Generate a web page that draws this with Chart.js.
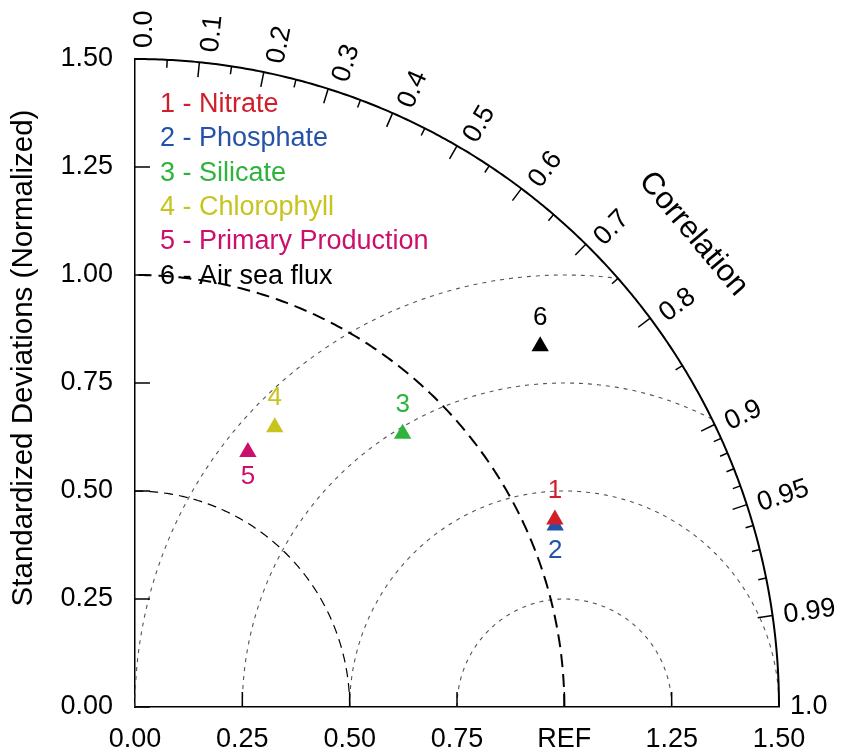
<!DOCTYPE html>
<html>
<head>
<meta charset="utf-8">
<script src="https://cdn.jsdelivr.net/npm/chart.js@4.4.1/dist/chart.umd.min.js"></script>
<style>
  html, body { margin: 0; padding: 0; background: #fff; }
</style>
</head>
<body>
<canvas id="taylor" width="843" height="753"></canvas>
<script>
const seriesNames = ['Nitrate', 'Phosphate', 'Silicate', 'Chlorophyll', 'Primary Production', 'Air sea flux'];
const seriesColors = ['#d01f2b', '#2352a8', '#2eb33c', '#c8c41e', '#cc0f6c', '#000000'];
const stdDevs = [1.070, 1.065, 0.888, 0.725, 0.646, 1.260];
const correlations = [0.914, 0.919, 0.702, 0.449, 0.407, 0.749];

const refStd = 1.0;
const maxStd = 1.5;
const stdTicks = [0, 0.25, 0.5, 0.75, 1.0, 1.25, 1.5];
const xTickLabels = ['0.00', '0.25', '0.50', '0.75', 'REF', '1.25', '1.50'];
const yTickLabels = ['0.00', '0.25', '0.50', '0.75', '1.00', '1.25', '1.50'];
const corrMajor = [0.0, 0.1, 0.2, 0.3, 0.4, 0.5, 0.6, 0.7, 0.8, 0.9, 0.95, 0.99, 1.0];
const corrMajorLabels = ['0.0', '0.1', '0.2', '0.3', '0.4', '0.5', '0.6', '0.7', '0.8', '0.9', '0.95', '0.99', '1.0'];
const corrMinor = [0.05, 0.15, 0.25, 0.35, 0.45, 0.55, 0.65, 0.75, 0.85, 0.91, 0.92, 0.93, 0.94, 0.96, 0.97, 0.98];
const rmsLevels = [0.25, 0.5, 0.75, 1.0];
const stdArcs = [0.5, 1.0];

const FONT = '"Liberation Sans", Arial, Helvetica, sans-serif';

// label under the marker for these series (phosphate, primary production)
const labelBelow = [false, true, false, false, true, false];

const datasets = seriesNames.map((name, i) => {
    const c = correlations[i];
    const s = stdDevs[i];
    return {
        label: (i + 1) + ' - ' + name,
        data: [{ x: s * c, y: s * Math.sqrt(1 - c * c) }],
        pointStyle: 'triangle',
        pointRadius: 10,
        pointHoverRadius: 10,
        backgroundColor: seriesColors[i],
        borderColor: seriesColors[i],
        borderWidth: 0
    };
});

function polyline(ctx, pts) {
    ctx.beginPath();
    pts.forEach((p, i) => i ? ctx.lineTo(p[0], p[1]) : ctx.moveTo(p[0], p[1]));
}

const taylorPlugin = {
    id: 'taylor',
    beforeDatasetsDraw(chart) {
        const { ctx, scales: { x, y } } = chart;
        const P = (u, v) => [x.getPixelForValue(u), y.getPixelForValue(v)];
        ctx.save();

        // centred RMS difference arcs around REF
        ctx.strokeStyle = '#555';
        ctx.lineWidth = 1.1;
        ctx.setLineDash([4, 5]);
        rmsLevels.forEach(r => {
            const lim = (maxStd * maxStd - refStd * refStd - r * r) / (2 * r * refStd);
            const phiMin = lim >= 1 ? 0 : Math.acos(lim);
            const pts = [];
            for (let i = 0; i <= 240; i++) {
                const phi = Math.PI - (Math.PI - phiMin) * i / 240;
                pts.push(P(refStd + r * Math.cos(phi), r * Math.sin(phi)));
            }
            polyline(ctx, pts);
            ctx.stroke();
        });

        // standard deviation arcs
        stdArcs.forEach(r => {
            const isRef = r === refStd;
            ctx.strokeStyle = '#000';
            ctx.lineWidth = isRef ? 2 : 1.2;
            ctx.setLineDash(isRef ? [13, 7] : [9, 6]);
            const pts = [];
            for (let i = 0; i <= 240; i++) {
                const t = (Math.PI / 2) * i / 240;
                pts.push(P(r * Math.cos(t), r * Math.sin(t)));
            }
            polyline(ctx, pts);
            ctx.stroke();
        });
        ctx.restore();
    },
    afterDraw(chart) {
        const { ctx, scales: { x, y } } = chart;
        const P = (u, v) => [x.getPixelForValue(u), y.getPixelForValue(v)];
        const o = P(0, 0);
        ctx.save();
        ctx.setLineDash([]);
        ctx.strokeStyle = '#000';

        // outer arc
        ctx.lineWidth = 2;
        const pts = [];
        for (let i = 0; i <= 300; i++) {
            const t = (Math.PI / 2) * i / 300;
            pts.push(P(maxStd * Math.cos(t), maxStd * Math.sin(t)));
        }
        polyline(ctx, pts);
        ctx.stroke();

        // inward ticks on the std axes
        ctx.lineWidth = 1.5;
        stdTicks.forEach(v => {
            if (v > 0 && v < maxStd) {
                ctx.beginPath();
                ctx.moveTo(x.getPixelForValue(v), o[1]);
                ctx.lineTo(x.getPixelForValue(v), o[1] - 15);
                ctx.stroke();
            }
            if (v < maxStd) {
                ctx.beginPath();
                ctx.moveTo(o[0], y.getPixelForValue(v));
                ctx.lineTo(o[0] + 15, y.getPixelForValue(v));
                ctx.stroke();
            }
        });

        // correlation ticks
        const corrTick = (c, len) => {
            const t = Math.acos(c);
            const p = P(maxStd * Math.cos(t), maxStd * Math.sin(t));
            const dx = o[0] - p[0], dy = o[1] - p[1];
            const d = Math.hypot(dx, dy);
            ctx.beginPath();
            ctx.moveTo(p[0], p[1]);
            ctx.lineTo(p[0] + dx / d * len, p[1] + dy / d * len);
            ctx.stroke();
        };
        corrMajor.forEach(c => { if (c > 0 && c < 1) corrTick(c, 15); });
        corrMinor.forEach(c => corrTick(c, 8));

        // correlation labels
        ctx.fillStyle = '#000';
        ctx.font = '27px ' + FONT;
        ctx.textAlign = 'left';
        ctx.textBaseline = 'middle';
        corrMajor.forEach((c, i) => {
            const t = Math.acos(c);
            const p = P(maxStd * Math.cos(t), maxStd * Math.sin(t));
            const dx = p[0] - o[0], dy = p[1] - o[1];
            const d = Math.hypot(dx, dy);
            ctx.save();
            ctx.translate(p[0] + dx / d * 11, p[1] + dy / d * 11);
            ctx.rotate(-t);
            ctx.fillText(corrMajorLabels[i], 0, 10 * Math.sin(t));
            ctx.restore();
        });

        // "Correlation" title
        const tc = Math.acos(0.765);
        const pc = P(1.70 * Math.cos(tc), 1.70 * Math.sin(tc));
        ctx.save();
        ctx.translate(pc[0], pc[1]);
        ctx.rotate(Math.PI / 2 - tc);
        ctx.font = '31px ' + FONT;
        ctx.textAlign = 'center';
        ctx.fillText('Correlation', 0, 0);
        ctx.restore();

        // y axis title
        ctx.save();
        ctx.translate(24, 358);
        ctx.rotate(-Math.PI / 2);
        ctx.font = '29.5px ' + FONT;
        ctx.textAlign = 'center';
        ctx.fillText('Standardized Deviations (Normalized)', 0, 0);
        ctx.restore();

        // legend text
        ctx.font = '27px ' + FONT;
        ctx.textAlign = 'left';
        ctx.textBaseline = 'alphabetic';
        chart.data.datasets.forEach((ds, i) => {
            ctx.fillStyle = ds.backgroundColor;
            ctx.fillText(ds.label, 160, 112 + i * 34.3);
        });

        // marker numbers
        ctx.font = '26px ' + FONT;
        ctx.textAlign = 'center';
        ctx.textBaseline = 'middle';
        chart.data.datasets.forEach((ds, i) => {
            const pt = chart.getDatasetMeta(i).data[0];
            ctx.fillStyle = ds.backgroundColor;
            ctx.fillText(String(i + 1), pt.x, labelBelow[i] ? pt.y + 25 : pt.y - 29);
        });
        ctx.restore();
    }
};

new Chart(document.getElementById('taylor'), {
    type: 'scatter',
    data: { datasets },
    plugins: [taylorPlugin],
    options: {
        responsive: false,
        devicePixelRatio: 1,
        animation: false,
        layout: { padding: { top: 59, right: 64, left: 0, bottom: 0 } },
        plugins: { legend: { display: false }, tooltip: { enabled: false } },
        scales: {
            x: {
                type: 'linear',
                min: 0,
                max: maxStd,
                afterBuildTicks: s => { s.ticks = stdTicks.map(v => ({ value: v })); },
                afterFit: s => { s.height = 46; },
                grid: { display: false, drawTicks: false },
                border: { display: true, color: '#000', width: 1.5 },
                ticks: {
                    autoSkip: false,
                    maxRotation: 0,
                    padding: 16,
                    color: '#000',
                    font: { family: FONT, size: 27 },
                    callback: (v, i) => xTickLabels[i]
                }
            },
            y: {
                type: 'linear',
                min: 0,
                max: maxStd,
                afterBuildTicks: s => { s.ticks = stdTicks.map(v => ({ value: v })); },
                afterFit: s => { s.width = 135; },
                grid: { display: false, drawTicks: false },
                border: { display: true, color: '#000', width: 1.5 },
                ticks: {
                    autoSkip: false,
                    padding: 22,
                    color: '#000',
                    font: { family: FONT, size: 27 },
                    callback: (v, i) => yTickLabels[i]
                }
            }
        }
    }
});
</script>
</body>
</html>
